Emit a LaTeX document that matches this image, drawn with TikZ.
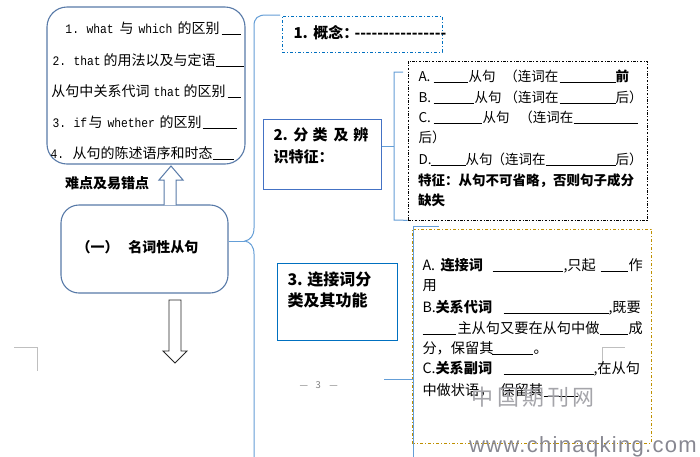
\documentclass[tikz,border=0pt]{standalone}
\usepackage{fontspec}
\usepackage{graphicx}
\usetikzlibrary{fit}
\setmainfont{Noto Sans CJK SC}
\newfontfamily\monofnt{Liberation Mono}
\newfontfamily\wmfnt[LetterSpace=6]{Liberation Sans}
\newcommand\at[2]{\rlap{\hspace*{#1pt}#2}}
\newcommand\bl[1]{\rule[-1.6pt]{#1pt}{0.7pt}}
\newcommand\mo[1]{{\monofnt\fontsize{13}{15}\selectfont\scalebox{0.87}[1]{#1}}}
\newcommand\hyph{\makebox[79pt][s]{-\hfil-\hfil-\hfil-\hfil-\hfil-\hfil-\hfil-\hfil-\hfil-\hfil-\hfil-\hfil-\hfil-\hfil-\hfil-}}
\definecolor{boxc}{RGB}{88,122,168}
\definecolor{lblue}{RGB}{100,158,215}
\definecolor{cblue}{RGB}{0,112,192}
\definecolor{b2blue}{RGB}{68,114,196}
\definecolor{gold}{RGB}{191,144,0}
\definecolor{wmc}{RGB}{165,165,170}
\definecolor{wmd}{RGB}{135,135,145}
\begin{document}
\begin{tikzpicture}[x=1pt,y=-1pt,
  ln/.style={anchor=base west, inner sep=0pt, outer sep=0pt},
  fa/.style={font=\fontsize{14}{16}\selectfont},
  fb/.style={font=\fontsize{13.5}{16}\selectfont},
  fc/.style={font=\fontsize{14.2}{16}\selectfont},
  fd/.style={font=\fontsize{15}{17}\selectfont\bfseries},
  fe/.style={font=\fontsize{16}{18}\selectfont\bfseries},
  rbox/.style={draw=boxc, line width=1.1pt, rounded corners=20pt, inner sep=0pt},
  lb/.style={draw=lblue, line width=1pt},
  cbox/.style={draw=cblue, line width=0.8pt, dash pattern=on 3pt off 2pt on 1pt off 2pt, inner sep=0pt},
  sbox/.style={draw=#1, line width=1pt, inner sep=0pt},
  dbox/.style={draw=black, line width=0.7pt, dash pattern=on 2.5pt off 1.5pt on 1pt off 1.5pt, inner sep=0pt},
  gbox/.style={draw=gold, line width=0.8pt, dash pattern=on 3pt off 2pt on 1pt off 2pt, inner sep=0pt},
  crop/.style={draw=black!25, line width=0.6pt}
]
\useasboundingbox (0,0) rectangle (700,456);
\fill[white] (0,0) rectangle (700,456);

% boxes
\node[rbox, fit={(47,7) (245,164)}] (diff) {};
\node[rbox, rounded corners=18pt, fit={(61,205) (228,293)}] (main) {};
\node[cbox, fit={(282,16) (442,52)}] (concept) {};
\node[sbox=b2blue, fit={(263,119) (381,189)}] (cls) {};
\node[dbox, fit={(408,61) (647,220)}] (clsd) {};
\node[sbox=cblue, fit={(277,263) (397,340)}] (conj) {};
\node[gbox, fit={(412,229) (651,443)}] (conjd) {};

% big brace
\coordinate (cusp) at (245,241);
\draw[lb] (280,15) -- (266,15) .. controls (258,15) and (254,18) .. (254,26)
  -- (254,228) .. controls (254,236) and (250,240) .. (cusp)
  .. controls (250,242) and (254,246) .. (254,254) -- (254,460);
\draw[lb] (main.east |- cusp) -- (cusp);

% bracket for classification
\coordinate (b2) at (394,146);
\draw[lb] (cls.east |- b2) -- (b2);
\draw[lb] (403,72) -- (394,72) -- (394,220) -- (clsd.south west);

% bracket for conjunctions
\coordinate (b3) at (413,379);
\coordinate (b3s) at (384,379);
\draw[lb] (439,226) -- (413,226) -- (413,460);
\draw[lb] (b3s) -- (b3);

% arrows
\draw[draw=boxc, line width=1pt, fill=white] (164,205) -- (164,180) -- (159,180) -- (171,166) -- (183,180) -- (176,180) -- (176,205);
\draw[draw=black!85, line width=0.9pt, fill=white] (169,300) -- (181,300) -- (181,351) -- (187,351) -- (175,363) -- (163,351) -- (169,351) -- cycle;

% crop marks
\draw[crop] (14,347) -- (37,347) -- (37,371);
\draw[crop] (602,367) -- (602,347) -- (625,347);

% box 1 text
\node[ln,fa] (d1) at (0,33.3) {\at{65}{\mo{1.}}\at{86}{\mo{what}}\at{119}{与}\at{138}{\mo{which}}\at{177}{的区别}\at{221}{\bl{19}}};
\node[ln,fa] (d2) at (0,65.3) {\at{52}{\mo{2.}}\at{73}{\mo{that}}\at{103}{的用法以及与定语}\at{215}{\bl{28}}};
\node[ln,fa] (d3) at (0,96.3) {\at{51}{从句中关系代词}\at{153}{\mo{that}}\at{183}{的区别}\at{227}{\bl{13}}};
\node[ln,fa] (d4) at (0,127.3) {\at{52}{\mo{3.}}\at{73}{\mo{if}}\at{88}{与}\at{107}{\mo{whether}}\at{159}{的区别}\at{202}{\bl{34}}};
\node[ln,fa] (d5) at (0,158.3) {\at{50}{\mo{4.}}\at{72}{从句的陈述语序和时态}\at{212}{\bl{21}}};

\node[ln,fa,font=\fontsize{14}{16}\selectfont\bfseries] (hard) at (65,188.3) {难点及易错点};
\node[ln,font=\fontsize{14}{16}\selectfont\bfseries] (maint) at (0,252.3) {\at{76}{（一）}\at{128}{名词性从句}};

% concept
\node[ln,fd] (ct) at (0,38.7) {\at{293}{1.}\at{313}{概念：}\at{354}{\hyph}};

% classification
\node[ln,fd] (c1) at (0,140.7) {\at{273}{2.}\at{293}{分}\at{312}{类}\at{333}{及}\at{353}{辨}};
\node[ln,fd] (c2) at (0,162.7) {\at{273}{识特征：}};

\node[ln,fb] (e1) at (0,81) {\at{418}{A.}\at{433}{\bl{34}}\at{468}{从句}\at{504}{（连词在}\at{559}{\bl{56}}\at{615}{\textbf{前}}};
\node[ln,fb] (e2) at (0,102) {\at{418}{B.}\at{433}{\bl{40}}\at{474}{从句}\at{504}{（连词在}\at{559}{\bl{56}}\at{615}{后）}};
\node[ln,fb] (e3) at (0,122) {\at{418}{C.}\at{433}{\bl{48}}\at{482}{从句}\at{519}{（连词在}\at{573}{\bl{64}}};
\node[ln,fb] (e4) at (0,142) {\at{418}{后）}};
\node[ln,fb] (e5) at (0,164) {\at{418}{D.}\at{430}{\bl{35}}\at{465}{从句}\at{491}{（连词在}\at{545}{\bl{70}}\at{615}{后）}};
\node[ln,fb,font=\fontsize{13.5}{16}\selectfont\bfseries] (e6) at (418,185) {特征：从句不可省略，否则句子成分};
\node[ln,fb,font=\fontsize{13.5}{16}\selectfont\bfseries] (e7) at (418,205) {缺失};

% conjunctions
\node[ln,fe] (j1) at (0,285) {\at{287}{3.}\at{307}{连接词分}};
\node[ln,fe] (j2) at (0,306) {\at{287}{类及其功能}};

\node[ln,fc] (g1) at (0,270.4) {\at{422}{A.}\at{440}{\textbf{连接词}}\at{492}{\bl{70}}\at{563}{,只起}\at{600}{\bl{27}}\at{628}{作}};
\node[ln,fc] (g2) at (0,290.4) {\at{422}{用}};
\node[ln,fc] (g3) at (0,312.4) {\at{422}{B.}\at{435}{\textbf{关系代词}}\at{503}{\bl{105}}\at{608}{,既要}};
\node[ln,fc] (g4) at (0,333.4) {\at{422}{\bl{33}}\at{457}{主从句又要在从句中做}\at{599}{\bl{28}}\at{628}{成}};
\node[ln,fc] (g5) at (0,353.4) {\at{422}{分，保留其}\at{491}{\bl{41}}\at{533}{。}};
\node[ln,fc] (g6) at (0,373.4) {\at{422}{C.}\at{435}{\textbf{关系副词}}\at{503}{\bl{90}}\at{593}{,在从句}};
\node[ln,fc] (g7) at (0,395.4) {\at{422}{中做状语，}\at{500}{保留其}\at{543}{\bl{34}}};

% page number
\node[ln,font=\fontsize{9.5}{11}\selectfont,text=black!50] (pg) at (0,388.5) {\at{299}{—}\at{315}{3}\at{329}{—}};

% watermark
\node[ln,font=\fontsize{22}{24}\selectfont,text=wmc] (wm1) at (0,405) {\at{471}{中}\at{497}{国}\at{522}{期}\at{547}{刊}\at{572}{网}};
\node[ln,font={\wmfnt\fontsize{22}{24}\selectfont},text=wmd] (wm2) at (469,452) {www.chinaqking.com};
\end{tikzpicture}
\end{document}
